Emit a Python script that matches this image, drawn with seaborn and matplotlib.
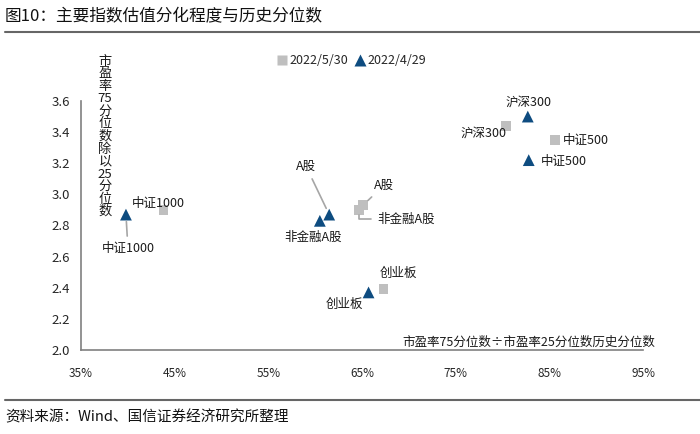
import pandas as pd
import seaborn as sns
import matplotlib.pyplot as plt
from matplotlib.ticker import FuncFormatter

# data: x = historical percentile (%), y = PE 75th/25th percentile ratio
names = ["中证1000", "A股", "非金融A股", "沪深300", "中证500", "创业板"]
x_0530 = [43.8, 65.1, 64.7, 80.4, 85.6, 67.3]
y_0530 = [2.90, 2.93, 2.90, 3.44, 3.35, 2.39]
x_0429 = [39.8, 61.5, 60.5, 82.7, 82.8, 65.7]
y_0429 = [2.87, 2.87, 2.83, 3.50, 3.22, 2.37]
dates = ["2022/5/30", "2022/4/29"]

x_ticks = [35, 45, 55, 65, 75, 85, 95]
y_ticks = [2.0, 2.2, 2.4, 2.6, 2.8, 3.0, 3.2, 3.4, 3.6]

sns.set_style("white")
plt.rcParams['font.family'] = ['Noto Sans CJK SC', 'DejaVu Sans']

rows = []
for n, a, b in zip(names, x_0530, y_0530):
    rows.append({"name": n, "x": a, "y": b, "date": dates[0]})
for n, a, b in zip(names, x_0429, y_0429):
    rows.append({"name": n, "x": a, "y": b, "date": dates[1]})
df = pd.DataFrame(rows)

fig = plt.figure(figsize=(7, 4.34), dpi=100)
ax = fig.add_axes([81 / 700, 84 / 434, 562 / 700, 249 / 434])

sns.scatterplot(data=df, x="x", y="y", hue="date", style="date", size="date",
                hue_order=dates, style_order=dates, size_order=dates,
                markers={dates[0]: "s", dates[1]: "^"},
                sizes={dates[0]: 48, dates[1]: 72},
                palette={dates[0]: "#BFBFBF", dates[1]: "#0E4C80"},
                edgecolor="none", ax=ax, zorder=3)

ax.set_xlim(35, 95)
ax.set_ylim(2.0, 3.6)
ax.set_xticks(x_ticks)
ax.set_yticks(y_ticks)
ax.xaxis.set_major_formatter(FuncFormatter(lambda v, p: f"{v:.0f}%"))
ax.yaxis.set_major_formatter(FuncFormatter(lambda v, p: f"{v:.1f}"))
ax.tick_params(axis="both", length=4, width=1, color="#808080", direction="out")
ax.tick_params(axis="x", labelsize=8.5, pad=8)
ax.tick_params(axis="y", labelsize=9.5, pad=4)
for side in ["top", "right"]:
    ax.spines[side].set_visible(False)
for side in ["left", "bottom"]:
    ax.spines[side].set_color("#808080")
    ax.spines[side].set_linewidth(1.2)
ax.set_xlabel("")
ax.set_ylabel("")

# labels: (dx, dy) offsets in pixels, leader line style
lab_0530 = {"中证1000": (-5, 6, None), "A股": (21, 20, "line"),
            "非金融A股": (47, -9, "elbow"), "沪深300": (-23, -7, None),
            "中证500": (31, -1, None), "创业板": (15, 16, None)}
lab_0429 = {"中证1000": (2, -34, "line"), "A股": (-23, 48, "line"),
            "非金融A股": (-7, -17, None), "沪深300": (1, 14, None),
            "中证500": (35, -1, None), "创业板": (-24, -12, None)}

def put_labels(xs, ys, layout):
    for n, a, b in zip(names, xs, ys):
        dx, dy, kind = layout[n]
        props = None
        if kind == "line":
            props = dict(arrowstyle="-", color="#A6A6A6", lw=1.2, shrinkA=2, shrinkB=5)
        elif kind == "elbow":
            props = dict(arrowstyle="-", color="#A6A6A6", lw=1.2, shrinkA=2, shrinkB=4,
                         connectionstyle="angle,angleA=0,angleB=90,rad=0")
        ax.annotate(n, (a, b), xytext=(dx, dy), textcoords="offset pixels",
                    ha="center", va="center", fontsize=9, color="#1a1a1a",
                    arrowprops=props, zorder=4)

put_labels(x_0530, y_0530, lab_0530)
put_labels(x_0429, y_0429, lab_0429)

leg = ax.legend(loc="center", bbox_to_anchor=(351 / 700, 1 - 61 / 434),
                bbox_transform=fig.transFigure, ncol=2, frameon=False, fontsize=9,
                handletextpad=0.1, columnspacing=0.4, handlelength=1.0)

# vertical y-axis title, stacked characters
ylab = ["市", "盈", "率", "75", "分", "位", "数", "除", "以", "25", "分", "位", "数"]
fig.text(105 / 700, 1 - 55 / 434, "\n".join(ylab), ha="center", va="top",
         fontsize=9.5, linespacing=0.95, color="#1a1a1a")
fig.text(655 / 700, 1 - 342 / 434, "市盈率75分位数÷市盈率25分位数历史分位数",
         ha="right", va="center", fontsize=9, color="#1a1a1a")

# title, footer and rules
fig.text(5 / 700, 1 - 17 / 434, "图10：主要指数估值分化程度与历史分位数",
         ha="left", va="center", fontsize=12, color="#111111")
fig.add_artist(plt.Line2D([5 / 700, 1], [1 - 32 / 434] * 2, color="#666666", lw=1.5))
fig.add_artist(plt.Line2D([5 / 700, 1], [1 - 400 / 434] * 2, color="#666666", lw=1.5))
fig.text(5 / 700, 1 - 417 / 434, "资料来源：Wind、国信证券经济研究所整理",
         ha="left", va="center", fontsize=10.5, color="#111111")

fig.savefig("out.png", dpi=100)
